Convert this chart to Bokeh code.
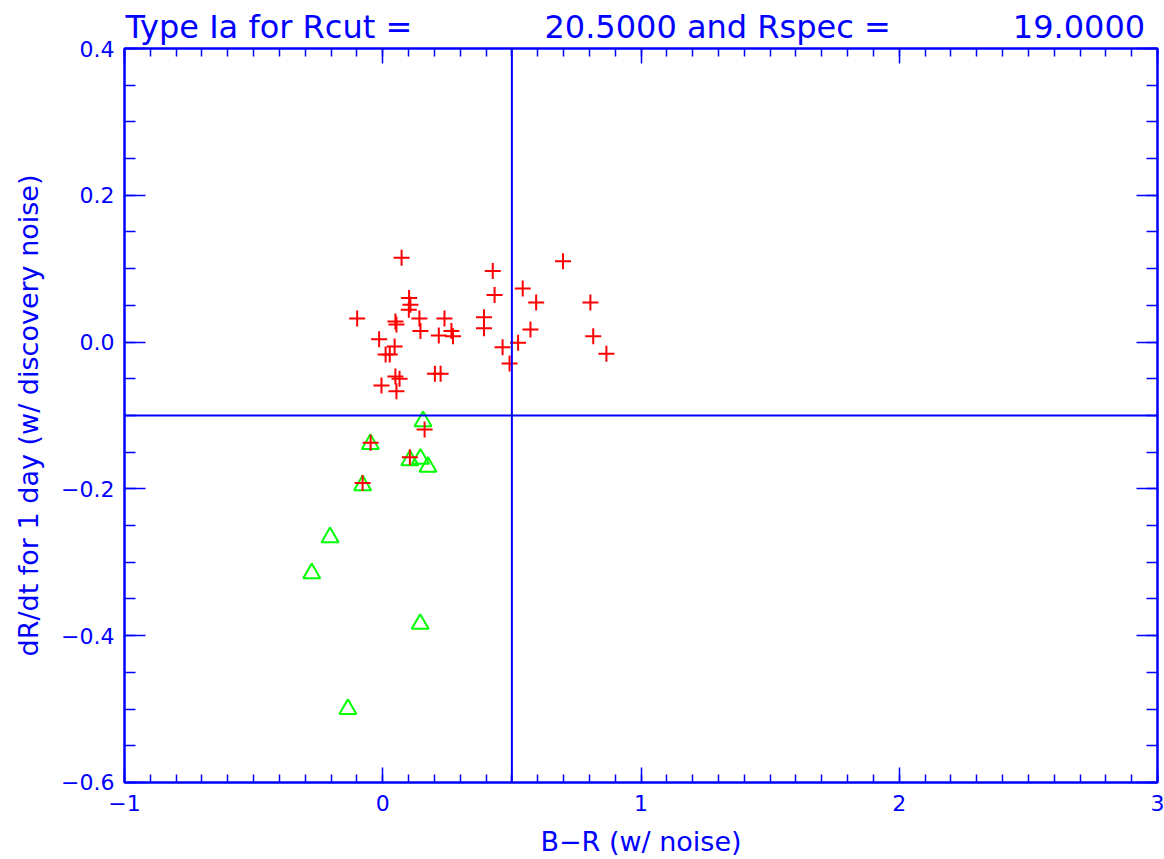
from bokeh.plotting import figure
from bokeh.models import (LinearAxis, SingleIntervalTicker, CustomJSTickFormatter,
                          Span, Range1d)
from bokeh.embed import file_html
from bokeh.resources import INLINE

FONT = "DejaVu Sans"
BLUE = "#0000ff"
RED = "#ff0000"
GREEN = "#00ff00"
NBSP = "\u00a0"

# selection cuts shown in the title and as reference lines
rcut = 20.5
rspec = 19.0
color_cut = 0.5
rate_cut = -0.1

# all simulated Type Ia events: B-R colour and dR/dt over one day
all_br = [0.073, 0.426, 0.433, 0.102, 0.107, 0.101, -0.099, 0.049, 0.053, 0.142,
          0.239, 0.392, 0.392, 0.146, 0.266, 0.217, 0.272, -0.014, 0.046, 0.027,
          0.011, 0.464, 0.491, 0.049, 0.065, -0.005, 0.053, 0.202, 0.224, 0.698,
          0.542, 0.594, 0.804, 0.572, 0.815, 0.866, 0.524, 0.162, -0.047, 0.105,
          -0.078]
all_drdt = [0.115, 0.097, 0.064, 0.060, 0.051, 0.044, 0.032, 0.028, 0.024, 0.032,
            0.032, 0.034, 0.019, 0.015, 0.015, 0.009, 0.008, 0.004, -0.006, -0.017,
            -0.017, -0.007, -0.029, -0.047, -0.050, -0.059, -0.067, -0.043, -0.043, 0.110,
            0.073, 0.054, 0.054, 0.017, 0.008, -0.016, -0.001, -0.119, -0.137, -0.157,
            -0.192]

# events passing the spectroscopic selection
sel_br = [0.156, -0.048, 0.105, 0.146, 0.175, -0.078, -0.204, -0.275, 0.145, -0.135]
sel_drdt = [-0.108, -0.139, -0.161, -0.159, -0.170, -0.195, -0.266, -0.315, -0.384, -0.500]

# fixed-width style title line
title_text = ("Type Ia for Rcut =" + NBSP * 13 + f"{rcut:.4f} and Rspec =" +
              NBSP * 12 + f"{rspec:.4f}")

p = figure(width=1164, height=859, output_backend="svg", toolbar_location=None,
           x_range=Range1d(-1, 3), y_range=Range1d(-0.6000001, 0.4),
           x_axis_location=None, y_axis_location=None,
           min_border_left=124, min_border_right=7,
           min_border_top=48, min_border_bottom=77,
           title=title_text)
p.grid.visible = False
p.outline_line_color = BLUE
p.outline_line_width = 2
p.background_fill_color = "white"
p.border_fill_color = "white"

p.title.text_color = BLUE
p.title.text_font = FONT
p.title.text_font_size = "32px"
p.title.text_font_style = "normal"
p.title.align = "left"
p.title.offset = 1
p.title.standoff = 5

x_fmt = CustomJSTickFormatter(code="var v = Math.round(tick); return (v < 0 ? '\u2212' : '') + Math.abs(v).toFixed(0);")
y_fmt = CustomJSTickFormatter(code="var v = Math.round(tick * 10) / 10; return (v < 0 ? '\u2212' : '') + Math.abs(v).toFixed(1);")
blank = CustomJSTickFormatter(code="return '';")


def style_axis(ax, major_len, minor_len):
    ax.axis_line_color = BLUE
    ax.axis_line_width = 2
    ax.major_tick_line_color = BLUE
    ax.minor_tick_line_color = BLUE
    ax.major_tick_line_width = 1.5
    ax.minor_tick_line_width = 1.5
    ax.major_tick_in = major_len
    ax.major_tick_out = 0
    ax.minor_tick_in = minor_len
    ax.minor_tick_out = 0
    ax.major_label_text_color = BLUE
    ax.major_label_text_font = FONT
    ax.major_label_text_font_size = "22px"
    ax.axis_label_text_color = BLUE
    ax.axis_label_text_font = FONT
    ax.axis_label_text_font_style = "normal"
    ax.axis_label_text_font_size = "27px"


def x_ticker():
    return SingleIntervalTicker(interval=1, num_minor_ticks=10)


def y_ticker():
    return SingleIntervalTicker(interval=0.2, num_minor_ticks=4)


bottom = LinearAxis(ticker=x_ticker(), formatter=x_fmt, axis_label="B\u2212R (w/ noise)")
style_axis(bottom, 15, 8)
bottom.major_label_standoff = 12
bottom.axis_label_standoff = 12
p.add_layout(bottom, "below")

top = LinearAxis(ticker=x_ticker(), formatter=blank)
style_axis(top, 15, 8)
top.major_label_standoff = 0
top.major_label_text_font_size = "0px"
p.add_layout(top, "above")

left = LinearAxis(ticker=y_ticker(), formatter=y_fmt,
                  axis_label="dR/dt for 1 day (w/ discovery noise)")
style_axis(left, 21, 11)
left.major_label_standoff = 10
left.axis_label_standoff = 14
p.add_layout(left, "left")

right = LinearAxis(ticker=y_ticker(), formatter=blank)
style_axis(right, 21, 11)
right.major_label_standoff = 0
right.major_label_text_font_size = "0px"
p.add_layout(right, "right")

# selection cuts
p.add_layout(Span(location=color_cut, dimension="height", line_color=BLUE, line_width=2))
p.add_layout(Span(location=rate_cut, dimension="width", line_color=BLUE, line_width=2))

p.scatter(sel_br, sel_drdt, marker="triangle", size=17, fill_color=None,
          line_color=GREEN, line_width=2)
p.scatter(all_br, all_drdt, marker="cross", size=16, line_color=RED, line_width=2)

open("out.html", "w").write(file_html(p, INLINE))
